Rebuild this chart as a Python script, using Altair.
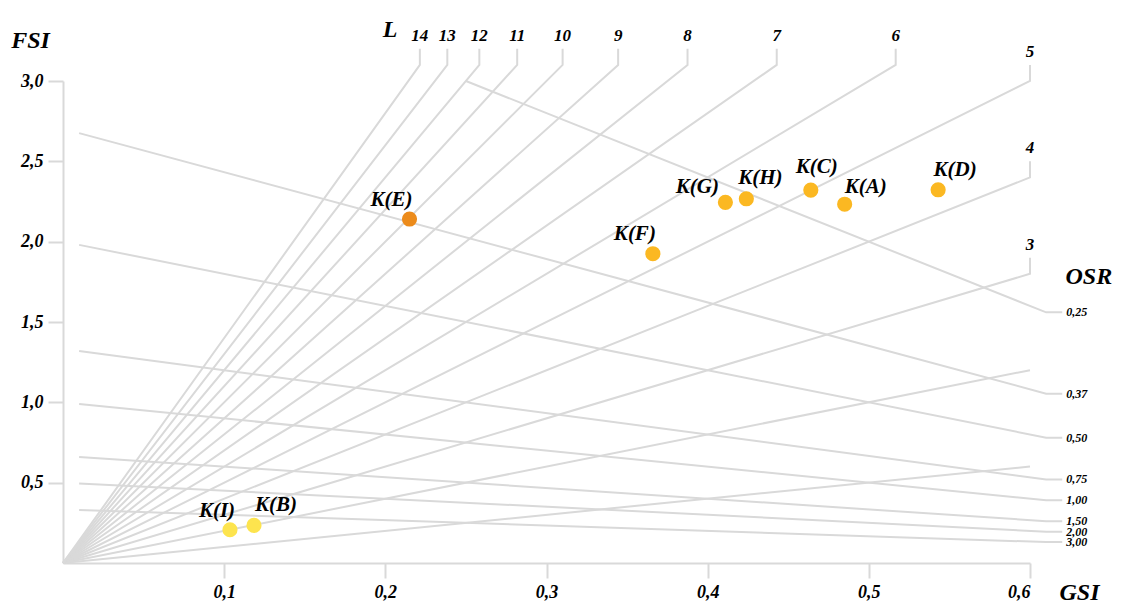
import altair as alt
import pandas as pd

# ---- data ----
gsi_ticks = [0.1, 0.2, 0.3, 0.4, 0.5, 0.6]
fsi_ticks = [0.5, 1.0, 1.5, 2.0, 2.5, 3.0]

L_values = [1, 2, 3, 4, 5, 6, 7, 8, 9, 10, 11, 12, 13, 14]
osr_values = [0.25, 0.37, 0.50, 0.75, 1.00, 1.50, 2.00, 3.00]
osr_labels = ["0,25", "0,37", "0,50", "0,75", "1,00", "1,50", "2,00", "3,00"]

names = ["K(A)", "K(B)", "K(C)", "K(D)", "K(E)", "K(F)", "K(G)", "K(H)", "K(I)"]
gsi = [0.485, 0.1185, 0.464, 0.543, 0.215, 0.366, 0.411, 0.424, 0.1036]
fsi = [2.233, 0.234, 2.321, 2.323, 2.141, 1.925, 2.245, 2.267, 0.207]
groups = ["mid", "low", "mid", "mid", "high", "mid", "mid", "mid", "low"]

# ---- styling ----
FONT = "Liberation Serif"
GREY = "#d9d9d9"
label_dx = [21, 22, 6, 17, -18, -18, -28, 14, -13]
label_dy = [-17, -20, -23, -20, -19, -20, -15, -21, -19]

# ---- build geometry from the L / OSR definitions ----
line_rows = []
L_label_rows = []
for L in L_values:
    if 0.6 * L <= 3.0:
        xe, ye = 0.6, 0.6 * L
    else:
        xe, ye = 3.1 / L, 3.1
    pts = [(0.0, 0.0), (xe, ye)]
    if L >= 3:
        pts.append((xe, ye + 0.1))
        L_label_rows.append({"x": xe, "y": ye + 0.1, "t": str(L)})
    for i, (x, y) in enumerate(pts):
        line_rows.append({"id": f"L{L}", "o": i, "x": x, "y": y})

osr_label_rows = []
for o, lab in zip(osr_values, osr_labels):
    x0 = max(0.01, 1 - 3.0 * o)
    pts = [(x0, (1 - x0) / o), (0.61, 0.39 / o), (0.62, 0.39 / o)]
    for i, (x, y) in enumerate(pts):
        line_rows.append({"id": f"O{o}", "o": i, "x": x, "y": y})
    osr_label_rows.append({"x": 0.62, "y": 0.39 / o, "t": lab})

lines_df = pd.DataFrame(line_rows)
L_lab_df = pd.DataFrame(L_label_rows)
O_lab_df = pd.DataFrame(osr_label_rows)
pts_df = pd.DataFrame({"name": names, "gsi": gsi, "fsi": fsi, "grp": groups})

label_expr = "replace(format(datum.value, '.1f'), '.', ',')"
xscale = alt.Scale(domain=[0, 0.6], nice=False, zero=False)
yscale = alt.Scale(domain=[0, 3.0], nice=False, zero=False)

x_axis = alt.Axis(values=gsi_ticks, labelExpr=label_expr, grid=False,
                  title="GSI", titleAngle=0, titleX=1016, titleY=29,
                  titleAlign="center", titleBaseline="middle")
y_axis = alt.Axis(values=fsi_ticks, labelExpr=label_expr, grid=False,
                  title="FSI", titleAngle=0, titleX=-33, titleY=-41,
                  titleAlign="center", titleBaseline="middle")

lines = alt.Chart(lines_df).mark_line(color=GREY, strokeWidth=2, clip=False).encode(
    x=alt.X("x:Q", scale=xscale, axis=x_axis),
    y=alt.Y("y:Q", scale=yscale, axis=y_axis),
    detail="id:N",
    order="o:Q",
)

txt = dict(font=FONT, fontStyle="italic", fontWeight="bold", color="black")

L_labels = alt.Chart(L_lab_df).mark_text(fontSize=17, baseline="bottom", dy=-4, **txt).encode(
    x=alt.X("x:Q", scale=xscale), y=alt.Y("y:Q", scale=yscale), text="t:N")

O_labels = alt.Chart(O_lab_df).mark_text(fontSize=12, align="left", baseline="middle", dx=4, **txt).encode(
    x=alt.X("x:Q", scale=xscale), y=alt.Y("y:Q", scale=yscale), text="t:N")

titles_df = pd.DataFrame({"x": [0.203, 0.6365], "y": [3.317, 1.782], "t": ["L", "OSR"]})
titles = alt.Chart(titles_df).mark_text(fontSize=24, baseline="middle", **txt).encode(
    x=alt.X("x:Q", scale=xscale), y=alt.Y("y:Q", scale=yscale), text="t:N")

points = alt.Chart(pts_df).mark_point(filled=True, opacity=1, size=230, shape="circle").encode(
    x=alt.X("gsi:Q", scale=xscale),
    y=alt.Y("fsi:Q", scale=yscale),
    color=alt.Color("grp:N", scale=alt.Scale(domain=["high", "mid", "low"],
                                             range=["#ec8b1b", "#fbb822", "#fde44e"]),
                    legend=None),
)

layers = [lines, L_labels, O_labels, titles, points]
for i, n in enumerate(names):
    layers.append(
        alt.Chart(pts_df).transform_filter(alt.datum.name == n)
        .mark_text(fontSize=21, baseline="middle", dx=label_dx[i], dy=label_dy[i], **txt)
        .encode(x=alt.X("gsi:Q", scale=xscale), y=alt.Y("fsi:Q", scale=yscale), text="name:N")
    )

chart = alt.layer(*layers).properties(
    width=967, height=482,
    padding={"left": 55, "top": 73, "right": 84, "bottom": 40},
    autosize=alt.AutoSizeParams(type="none"),
).configure_view(stroke=None).configure_axis(
    domainColor=GREY, domainWidth=2, tickColor=GREY, tickWidth=2, tickSize=15,
    labelFont=FONT, labelFontStyle="italic", labelFontWeight="bold", labelFontSize=18,
    labelColor="black", labelPadding=5,
    titleFont=FONT, titleFontStyle="italic", titleFontWeight="bold", titleFontSize=24,
    titleColor="black",
)

chart.save("out.html", embed_options={"renderer": "svg", "actions": False})
